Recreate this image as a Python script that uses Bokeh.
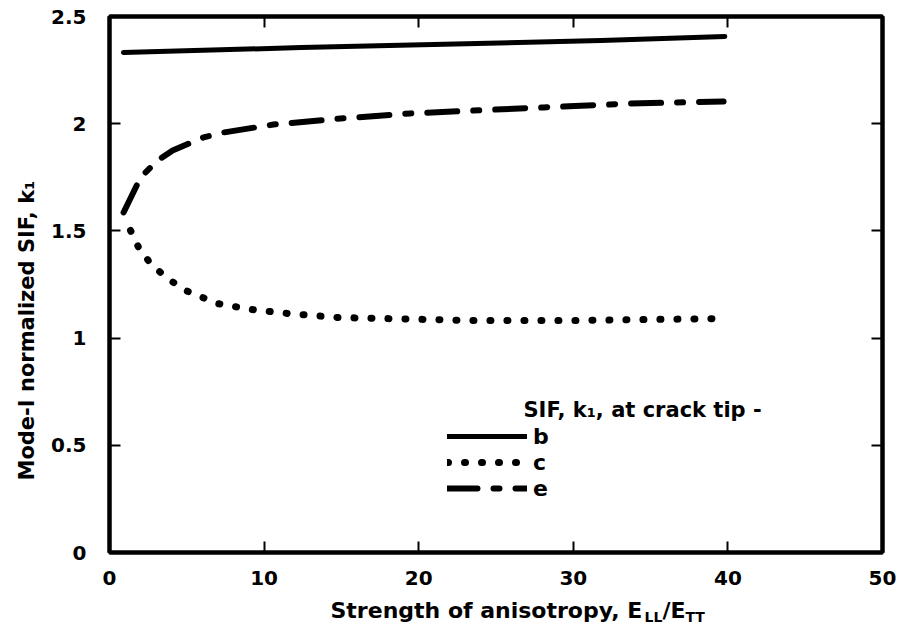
from bokeh.plotting import figure
from bokeh.models import Range1d, LinearAxis, Label, Legend, LegendItem, FixedTicker, Title
from bokeh.layouts import column
from bokeh.embed import file_html
from bokeh.resources import INLINE

# ---- data ----
x_ticks = [0, 10, 20, 30, 40, 50]
x_tick_labels = ["0", "10", "20", "30", "40", "50"]
y_ticks = [0, 0.5, 1, 1.5, 2, 2.5]
y_tick_labels = ["0", "0.5", "1", "1.5", "2", "2.5"]

x_b = [0.9, 12.4, 31.8, 39.8]
y_b = [2.332, 2.355, 2.388, 2.407]

x_c = [1.36, 1.88, 2.65, 3.75, 4.92, 6.99, 9.25, 11.51, 14.81, 23.54, 30.27, 39.2]
y_c = [1.502, 1.423, 1.348, 1.278, 1.222, 1.161, 1.133, 1.115, 1.096, 1.082, 1.082, 1.091]

x_e = [0.91, 2.01, 3.10, 4.08, 6.08, 7.37, 10.61, 14.94, 19.47, 28.07, 33.70, 39.72]
y_e = [1.586, 1.749, 1.828, 1.875, 1.936, 1.959, 1.996, 2.024, 2.048, 2.076, 2.094, 2.104]

series_names = ["b", "c", "e"]
legend_title = "SIF, k\u2081, at crack tip -"
y_label = "Mode-I normalized SIF, k\u2081"
x_label_parts = ["Strength of anisotropy, E", "LL", "/E", "TT"]

FONT = "DejaVu Sans"

p = figure(width=905, height=596, x_range=Range1d(0, 50), y_range=Range1d(0, 2.5),
           output_backend="svg", toolbar_location=None,
           min_border_left=109, min_border_right=23, min_border_top=16, min_border_bottom=44)
p.xgrid.visible = False
p.ygrid.visible = False
p.outline_line_color = "black"
p.outline_line_width = 4
p.background_fill_color = "white"
p.border_fill_color = "white"

def style_axis(ax, ticks, labels, show_labels, standoff):
    ax.ticker = FixedTicker(ticks=ticks)
    ax.minor_tick_line_color = None
    ax.major_tick_in = 11
    ax.major_tick_out = 0
    ax.major_tick_line_width = 2
    ax.major_tick_line_color = "black"
    ax.axis_line_color = "black"
    ax.axis_line_width = 4
    ax.major_label_overrides = {t: l for t, l in zip(ticks, labels)}
    if show_labels:
        ax.major_label_text_font = FONT
        ax.major_label_text_font_style = "bold"
        ax.major_label_text_font_size = "20px"
        ax.major_label_text_color = "black"
        ax.major_label_standoff = standoff
    else:
        ax.major_label_text_font_size = "1px"
        ax.major_label_text_color = None
        ax.major_label_standoff = 0

style_axis(p.xaxis[0], x_ticks, x_tick_labels, True, 18)
style_axis(p.yaxis[0], y_ticks, y_tick_labels, True, 23)

top = LinearAxis()
style_axis(top, x_ticks, x_tick_labels, False, 0)
p.add_layout(top, "above")
right = LinearAxis()
style_axis(right, y_ticks, y_tick_labels, False, 0)
p.add_layout(right, "right")

# y-axis title, placed lower than centre like the original
p.add_layout(Title(text=y_label, align="left", offset=72, standoff=19,
                   text_font=FONT, text_font_style="bold", text_font_size="21px",
                   text_color="black"), "left")

r_b = p.line(x_b, y_b, line_color="black", line_width=5, line_cap="round", line_join="round")
r_c = p.line(x_c, y_c, line_color="black", line_width=7, line_cap="round",
             line_join="round", line_dash="1 16")
r_e = p.line(x_e, y_e, line_color="black", line_width=6, line_cap="round",
             line_join="round", line_dash="30 16 6 16")

legend = Legend(items=[LegendItem(label=n, renderers=[r]) for n, r in zip(series_names, [r_b, r_c, r_e])],
                location=(338, 51), glyph_width=80, glyph_height=26, label_height=26,
                spacing=0, padding=0, margin=0, label_standoff=6,
                border_line_color=None, background_fill_alpha=0,
                label_text_font=FONT, label_text_font_style="bold", label_text_font_size="22px",
                label_text_color="black")
p.add_layout(legend)

p.add_layout(Label(x=414, y=143, x_units="screen", y_units="screen", text=legend_title,
                   text_font=FONT, text_font_style="bold", text_font_size="21px",
                   text_color="black", text_baseline="alphabetic", text_align="left"))

# x-axis title with subscripts, drawn in a thin strip below the chart
p2 = figure(width=905, height=40, x_range=Range1d(0, 50), y_range=Range1d(0, 40),
            output_backend="svg", toolbar_location=None,
            x_axis_location=None, y_axis_location=None, min_border=0)
p2.grid.visible = False
p2.outline_line_color = None
p2.background_fill_color = "white"
p2.border_fill_color = "white"

main_fs, sub_fs = 22, 14
xs = [221, 535, 553, 576]
ys = [26, 20, 26, 20]
fss = [main_fs, sub_fs, main_fs, sub_fs]
for t, xx, yy, fs in zip(x_label_parts, xs, ys, fss):
    p2.add_layout(Label(x=xx, y=yy, x_units="screen", y_units="screen", text=t,
                        text_font=FONT, text_font_style="bold", text_font_size=f"{fs}px",
                        text_color="black", text_baseline="alphabetic", text_align="left"))

layout = column(p, p2, spacing=0)
open("out.html", "w").write(file_html(layout, INLINE))
